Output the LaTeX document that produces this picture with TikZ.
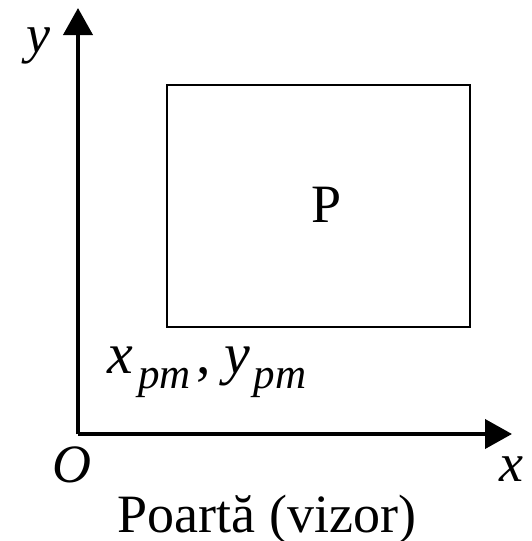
\documentclass[tikz,border=0pt]{standalone}
\usepackage{fontspec}
\setmainfont{Liberation Serif}
\usepackage{tikz}
\usetikzlibrary{positioning,arrows.meta}
\newcommand{\subpm}{\raisebox{-7.5pt}{\fontsize{21.5}{23}\selectfont\itshape pm}}
\tikzset{
  ax/.style={line width=2pt, -{Triangle[length=13.5pt, width=14.5pt]}},
  pbox/.style={draw, line width=1.1pt, minimum width=151.5pt, minimum height=121pt,
               inner sep=0pt},
  lbl/.style={font=\fontsize{27}{30}\selectfont, inner sep=0pt}
}

\begin{document}
\begin{tikzpicture}[x=0.5pt, y=-0.5pt]
  \useasboundingbox (0,0) rectangle (531,541);
  \coordinate (O) at (78,434);
  \coordinate (xend) at (512,434);
  \coordinate (yend) at (78,8);
  \draw[ax] (O) -- (xend);
  \draw[ax] (O) -- (yend);
  \node[pbox] (P) at (318.5,206) {};
  \node[lbl] (plab) at (327,205) {P};
  % lower-left corner of P
  \node[lbl, anchor=base west] (pm) at (107,373)
    {\fontsize{29}{30}\selectfont\textit{x}\hspace{2.5pt}\subpm\hspace{3pt},\hspace{6.5pt}\textit{y}\hspace{2pt}\subpm};
  \node[lbl] (olab) at (72,465) {\textit{O}};
  \node[lbl] (xlab) at (511,469) {\textit{x}};
  \node[lbl] (ylab) at (38,46) {\textit{y}};
  \node[lbl, anchor=base] (gate) at (267,532) {Poartă (vizor)};
\end{tikzpicture}
\end{document}
